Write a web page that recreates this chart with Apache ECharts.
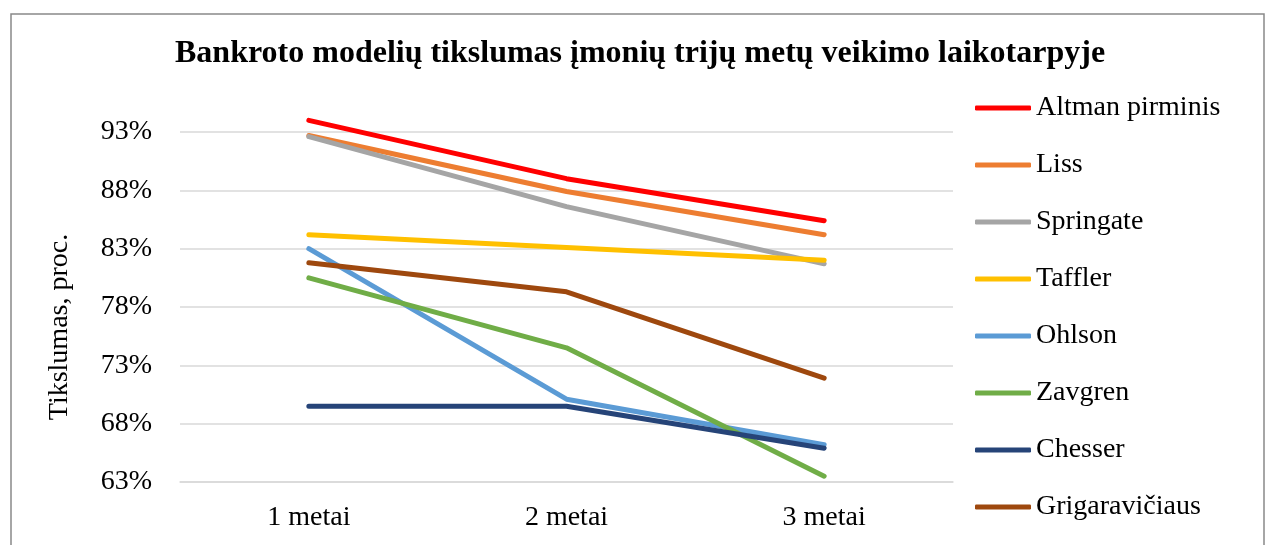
<!DOCTYPE html>
<html>
<head>
<meta charset="utf-8">
<title>Bankroto modelių tikslumas</title>
<script src="https://cdn.jsdelivr.net/npm/echarts@6/dist/echarts.min.js"></script>
<style>
  html, body { margin: 0; padding: 0; background: #fff; }
  #chart { width: 1266px; height: 545px; }
</style>
</head>
<body>
<div id="chart"></div>
<script>
// duomenys (proc.)
const categories = ["1 metai", "2 metai", "3 metai"];
const seriesNames = ["Altman pirminis", "Liss", "Springate", "Taffler", "Ohlson", "Zavgren", "Chesser", "Grigaravičiaus"];
const altman = [94.0, 89.0, 85.4];
const liss = [92.7, 87.9, 84.2];
const springate = [92.6, 86.6, 81.7];
const taffler = [84.2, 83.1, 82.0];
const ohlson = [83.0, 70.1, 66.2];
const zavgren = [80.5, 74.5, 63.5];
const chesser = [69.5, 69.5, 65.9];
const grigaravicius = [81.8, 79.3, 71.9];
const yTicks = [63, 68, 73, 78, 83, 88, 93];

const colors = ["#FF0000", "#ED7D31", "#A5A5A5", "#FFC000", "#5B9BD5", "#70AD47", "#264478", "#9E480E"];
const values = [altman, liss, springate, taffler, ohlson, zavgren, chesser, grigaravicius];
const font = '"Liberation Serif", "Times New Roman", serif';

const myChart = echarts.init(document.getElementById("chart"));

const option = {
  animation: false,
  backgroundColor: "#fff",
  textStyle: { fontFamily: font, color: "#000" },
  graphic: [
    {
      type: "rect",
      shape: { x: 11, y: 14, width: 1253, height: 560 },
      style: { fill: "none", stroke: "#898989", lineWidth: 1.5 },
      silent: true,
      z: -1,
    },
  ],
  title: {
    text: "Bankroto modelių tikslumas įmonių trijų metų veikimo laikotarpyje",
    left: 175,
    top: 38,
    padding: 0,
    textStyle: { fontFamily: font, fontSize: 32, fontWeight: "bold", color: "#000" },
  },
  legend: {
    orient: "vertical",
    left: 975,
    top: 93,
    padding: 0,
    itemWidth: 56,
    itemHeight: 5,
    itemGap: 27,
    icon: "roundRect",
    data: seriesNames,
    textStyle: { fontFamily: font, fontSize: 28, color: "#000", lineHeight: 30 },
  },
  grid: { left: 180, right: 313, top: 132, bottom: 63 },
  xAxis: {
    type: "category",
    data: categories,
    boundaryGap: true,
    axisLine: { show: true, lineStyle: { color: "#d9d9d9", width: 1.5 } },
    axisTick: { show: false },
    axisLabel: { fontFamily: font, fontSize: 28, color: "#000", margin: 22 },
  },
  yAxis: {
    type: "value",
    min: yTicks[0],
    max: yTicks[yTicks.length - 1],
    interval: yTicks[1] - yTicks[0],
    name: "Tikslumas, proc.",
    nameLocation: "middle",
    nameGap: 106,
    nameTextStyle: { fontFamily: font, fontSize: 28, color: "#000", padding: [0, 40, 0, 0] },
    axisLine: { show: false },
    axisTick: { show: false },
    axisLabel: { fontFamily: font, fontSize: 28, color: "#000", margin: 28, formatter: "{value}%" },
    splitLine: { lineStyle: { color: "#d9d9d9", width: 1.5 } },
  },
  series: seriesNames.map((name, i) => ({
    name: name,
    type: "line",
    data: values[i],
    symbol: "none",
    smooth: false,
    clip: false,
    color: colors[i],
    lineStyle: { color: colors[i], width: 5, cap: "round", join: "round" },
  })),
};

myChart.setOption(option);
</script>
</body>
</html>
